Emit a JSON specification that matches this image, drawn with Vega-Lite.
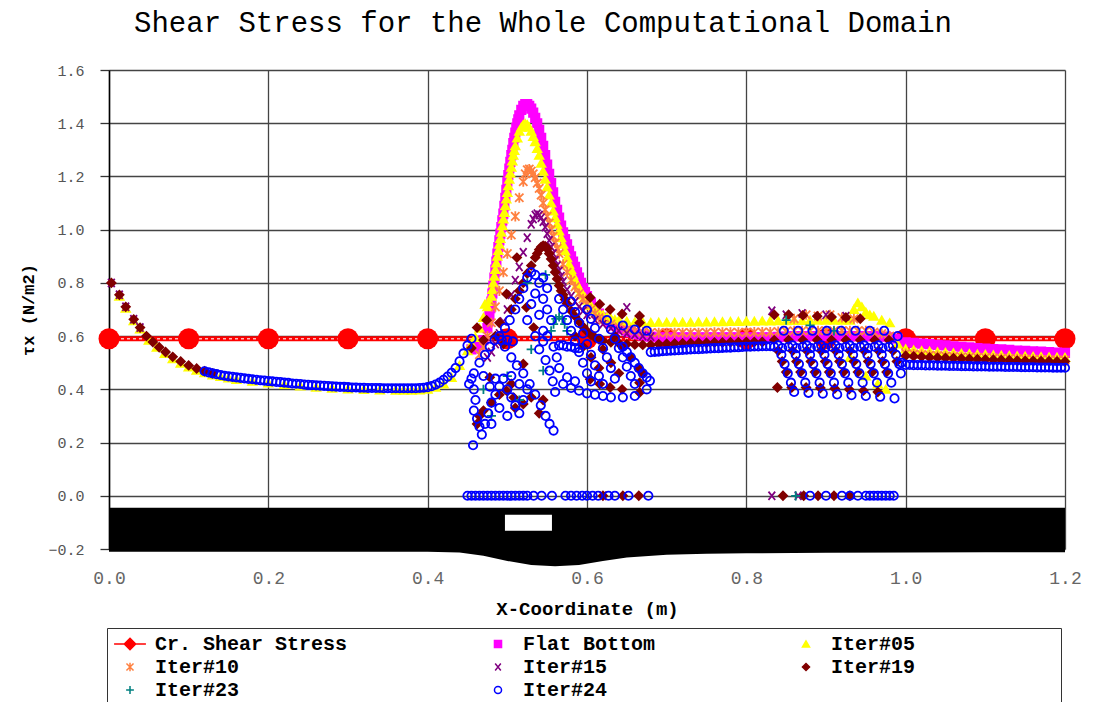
{
"$schema":"https://vega.github.io/schema/vega-lite/v6.json",
"width":956,"height":479,
"autosize":"none",
"padding":{"left":109,"top":70,"right":28,"bottom":153},
"config":{"view":{"stroke":null},"font":"Liberation Mono"},
"title":{"text":"Shear Stress for the Whole Computational Domain","font":"Liberation Mono","fontSize":29,"fontWeight":"normal","color":"#000","anchor":"middle","dx":-44,"offset":25},
"datasets":{
"bed":[{"x":0,"y":-0.21,"top":-0.045},{"x":0.4,"y":-0.21,"top":-0.045},{"x":0.44,"y":-0.213,"top":-0.045},{"x":0.47,"y":-0.225,"top":-0.045},{"x":0.5,"y":-0.245,"top":-0.045},{"x":0.53,"y":-0.26,"top":-0.045},{"x":0.56,"y":-0.265,"top":-0.045},{"x":0.59,"y":-0.26,"top":-0.045},{"x":0.62,"y":-0.245,"top":-0.045},{"x":0.65,"y":-0.232,"top":-0.045},{"x":0.7,"y":-0.222,"top":-0.045},{"x":0.75,"y":-0.218,"top":-0.045},{"x":0.8,"y":-0.216,"top":-0.045},{"x":0.9,"y":-0.214,"top":-0.045},{"x":1.0,"y":-0.213,"top":-0.045},{"x":1.1,"y":-0.212,"top":-0.045},{"x":1.2,"y":-0.212,"top":-0.045}],
"hole":[{"x":0.497,"x2":0.556,"y":-0.131,"y2":-0.071}],
"crit":[{"x":0,"y":0.59},{"x":0.1,"y":0.59},{"x":0.2,"y":0.59},{"x":0.3,"y":0.59},{"x":0.4,"y":0.59},{"x":0.5,"y":0.59},{"x":0.6,"y":0.59},{"x":0.7,"y":0.59},{"x":0.8,"y":0.59},{"x":0.9,"y":0.59},{"x":1.0,"y":0.59},{"x":1.1,"y":0.59},{"x":1.2,"y":0.59}],
"pts":[
{"s":"Flat Bottom","x":0.455,"y":0.55},{"s":"Flat Bottom","x":0.46,"y":0.555},{"s":"Flat Bottom","x":0.465,"y":0.565},{"s":"Flat Bottom","x":0.47,"y":0.585},{"s":"Flat Bottom","x":0.475,"y":0.63},{"s":"Flat Bottom","x":0.47625,"y":0.655},{"s":"Flat Bottom","x":0.4775,"y":0.68},{"s":"Flat Bottom","x":0.47875,"y":0.705},{"s":"Flat Bottom","x":0.48,"y":0.73},{"s":"Flat Bottom","x":0.48125,"y":0.76},{"s":"Flat Bottom","x":0.4825,"y":0.79},{"s":"Flat Bottom","x":0.48375,"y":0.82},{"s":"Flat Bottom","x":0.485,"y":0.85},{"s":"Flat Bottom","x":0.48625,"y":0.88},{"s":"Flat Bottom","x":0.4875,"y":0.91},{"s":"Flat Bottom","x":0.48875,"y":0.935},{"s":"Flat Bottom","x":0.49,"y":0.96},{"s":"Flat Bottom","x":0.49125,"y":0.985},{"s":"Flat Bottom","x":0.4925,"y":1.01},{"s":"Flat Bottom","x":0.49375,"y":1.035},{"s":"Flat Bottom","x":0.495,"y":1.06},{"s":"Flat Bottom","x":0.49625,"y":1.09},{"s":"Flat Bottom","x":0.4975,"y":1.12},{"s":"Flat Bottom","x":0.49875,"y":1.15},{"s":"Flat Bottom","x":0.5,"y":1.18},{"s":"Flat Bottom","x":0.50125,"y":1.205},{"s":"Flat Bottom","x":0.5025,"y":1.23},{"s":"Flat Bottom","x":0.50375,"y":1.255},{"s":"Flat Bottom","x":0.505,"y":1.28},{"s":"Flat Bottom","x":0.50625,"y":1.3},{"s":"Flat Bottom","x":0.5075,"y":1.325},{"s":"Flat Bottom","x":0.50875,"y":1.345},{"s":"Flat Bottom","x":0.51,"y":1.365},{"s":"Flat Bottom","x":0.51125,"y":1.383},{"s":"Flat Bottom","x":0.5125,"y":1.4},{"s":"Flat Bottom","x":0.51375,"y":1.415},{"s":"Flat Bottom","x":0.515,"y":1.43},{"s":"Flat Bottom","x":0.5175,"y":1.45},{"s":"Flat Bottom","x":0.52,"y":1.465},{"s":"Flat Bottom","x":0.5225,"y":1.472},{"s":"Flat Bottom","x":0.525,"y":1.472},{"s":"Flat Bottom","x":0.5275,"y":1.465},{"s":"Flat Bottom","x":0.53,"y":1.455},{"s":"Flat Bottom","x":0.5325,"y":1.44},{"s":"Flat Bottom","x":0.535,"y":1.42},{"s":"Flat Bottom","x":0.5375,"y":1.4},{"s":"Flat Bottom","x":0.54,"y":1.375},{"s":"Flat Bottom","x":0.5425,"y":1.345},{"s":"Flat Bottom","x":0.545,"y":1.315},{"s":"Flat Bottom","x":0.5475,"y":1.28},{"s":"Flat Bottom","x":0.55,"y":1.245},{"s":"Flat Bottom","x":0.5525,"y":1.21},{"s":"Flat Bottom","x":0.555,"y":1.175},{"s":"Flat Bottom","x":0.5575,"y":1.14},{"s":"Flat Bottom","x":0.56,"y":1.105},{"s":"Flat Bottom","x":0.5625,"y":1.075},{"s":"Flat Bottom","x":0.565,"y":1.045},{"s":"Flat Bottom","x":0.5675,"y":1.015},{"s":"Flat Bottom","x":0.57,"y":0.99},{"s":"Flat Bottom","x":0.5725,"y":0.965},{"s":"Flat Bottom","x":0.575,"y":0.945},{"s":"Flat Bottom","x":0.5775,"y":0.92},{"s":"Flat Bottom","x":0.58,"y":0.9},{"s":"Flat Bottom","x":0.5825,"y":0.88},{"s":"Flat Bottom","x":0.585,"y":0.86},{"s":"Flat Bottom","x":0.5875,"y":0.84},{"s":"Flat Bottom","x":0.59,"y":0.82},{"s":"Flat Bottom","x":0.5925,"y":0.8},{"s":"Flat Bottom","x":0.595,"y":0.78},{"s":"Flat Bottom","x":0.5975,"y":0.765},{"s":"Flat Bottom","x":0.6,"y":0.75},{"s":"Flat Bottom","x":0.605,"y":0.725},{"s":"Flat Bottom","x":0.61,"y":0.7},{"s":"Flat Bottom","x":0.615,"y":0.685},{"s":"Flat Bottom","x":0.62,"y":0.67},{"s":"Flat Bottom","x":0.625,"y":0.658},{"s":"Flat Bottom","x":0.63,"y":0.648},{"s":"Flat Bottom","x":0.635,"y":0.64},{"s":"Flat Bottom","x":0.64,"y":0.632},{"s":"Flat Bottom","x":0.645,"y":0.626},{"s":"Flat Bottom","x":0.65,"y":0.62},{"s":"Flat Bottom","x":0.655,"y":0.615},{"s":"Flat Bottom","x":0.66,"y":0.61},{"s":"Flat Bottom","x":0.665,"y":0.606},{"s":"Flat Bottom","x":0.67,"y":0.603},{"s":"Flat Bottom","x":0.675,"y":0.6},{"s":"Flat Bottom","x":0.68,"y":0.598},
{"s":"Flat Bottom","x":0.69,"y":0.595},{"s":"Flat Bottom","x":0.7,"y":0.595},{"s":"Flat Bottom","x":0.71,"y":0.595},{"s":"Flat Bottom","x":0.72,"y":0.595},{"s":"Flat Bottom","x":0.73,"y":0.595},{"s":"Flat Bottom","x":0.74,"y":0.595},{"s":"Flat Bottom","x":0.75,"y":0.595},{"s":"Flat Bottom","x":0.76,"y":0.595},{"s":"Flat Bottom","x":0.77,"y":0.595},{"s":"Flat Bottom","x":0.78,"y":0.595},{"s":"Flat Bottom","x":0.79,"y":0.595},{"s":"Flat Bottom","x":0.8,"y":0.595},{"s":"Flat Bottom","x":0.81,"y":0.595},{"s":"Flat Bottom","x":0.82,"y":0.595},{"s":"Flat Bottom","x":0.83,"y":0.595},{"s":"Flat Bottom","x":0.84,"y":0.597},{"s":"Flat Bottom","x":0.85,"y":0.598},{"s":"Flat Bottom","x":0.86,"y":0.6},{"s":"Flat Bottom","x":0.87,"y":0.6},{"s":"Flat Bottom","x":0.88,"y":0.6},{"s":"Flat Bottom","x":0.89,"y":0.6},{"s":"Flat Bottom","x":0.9,"y":0.6},{"s":"Flat Bottom","x":0.91,"y":0.6},{"s":"Flat Bottom","x":0.92,"y":0.6},{"s":"Flat Bottom","x":0.93,"y":0.6},{"s":"Flat Bottom","x":0.94,"y":0.6},{"s":"Flat Bottom","x":0.95,"y":0.6},{"s":"Flat Bottom","x":0.96,"y":0.6},{"s":"Flat Bottom","x":0.97,"y":0.598},{"s":"Flat Bottom","x":0.98,"y":0.595},{"s":"Flat Bottom","x":0.99,"y":0.59},
{"s":"Flat Bottom","x":1.0,"y":0.577},{"s":"Flat Bottom","x":1.01,"y":0.575},{"s":"Flat Bottom","x":1.02,"y":0.572},{"s":"Flat Bottom","x":1.03,"y":0.57},{"s":"Flat Bottom","x":1.04,"y":0.567},{"s":"Flat Bottom","x":1.05,"y":0.565},{"s":"Flat Bottom","x":1.06,"y":0.562},{"s":"Flat Bottom","x":1.07,"y":0.56},{"s":"Flat Bottom","x":1.08,"y":0.558},{"s":"Flat Bottom","x":1.09,"y":0.555},{"s":"Flat Bottom","x":1.1,"y":0.553},{"s":"Flat Bottom","x":1.11,"y":0.551},{"s":"Flat Bottom","x":1.12,"y":0.55},{"s":"Flat Bottom","x":1.13,"y":0.548},{"s":"Flat Bottom","x":1.14,"y":0.546},{"s":"Flat Bottom","x":1.15,"y":0.545},{"s":"Flat Bottom","x":1.16,"y":0.543},{"s":"Flat Bottom","x":1.17,"y":0.542},{"s":"Flat Bottom","x":1.18,"y":0.54},{"s":"Flat Bottom","x":1.19,"y":0.538},{"s":"Flat Bottom","x":1.2,"y":0.537},

{"s":"Iter#05","x":0.013,"y":0.75},{"s":"Iter#05","x":0.021,"y":0.705},{"s":"Iter#05","x":0.031,"y":0.658},{"s":"Iter#05","x":0.039,"y":0.627},{"s":"Iter#05","x":0.05,"y":0.585},{"s":"Iter#05","x":0.06,"y":0.558},{"s":"Iter#05","x":0.07,"y":0.535},{"s":"Iter#05","x":0.08,"y":0.515},{"s":"Iter#05","x":0.09,"y":0.498},{"s":"Iter#05","x":0.1,"y":0.484},{"s":"Iter#05","x":0.11,"y":0.472},{"s":"Iter#05","x":0.12,"y":0.462},{"s":"Iter#05","x":0.13,"y":0.454},{"s":"Iter#05","x":0.14,"y":0.448},{"s":"Iter#05","x":0.15,"y":0.443},{"s":"Iter#05","x":0.16,"y":0.437},{"s":"Iter#05","x":0.18,"y":0.43},{"s":"Iter#05","x":0.2,"y":0.424},{"s":"Iter#05","x":0.22,"y":0.418},{"s":"Iter#05","x":0.24,"y":0.413},{"s":"Iter#05","x":0.26,"y":0.408},{"s":"Iter#05","x":0.28,"y":0.404},{"s":"Iter#05","x":0.3,"y":0.401},{"s":"Iter#05","x":0.32,"y":0.399},{"s":"Iter#05","x":0.34,"y":0.398},{"s":"Iter#05","x":0.36,"y":0.397},{"s":"Iter#05","x":0.37,"y":0.397},{"s":"Iter#05","x":0.38,"y":0.397},{"s":"Iter#05","x":0.39,"y":0.398},{"s":"Iter#05","x":0.4,"y":0.4},{"s":"Iter#05","x":0.41,"y":0.408},{"s":"Iter#05","x":0.42,"y":0.42},{"s":"Iter#05","x":0.43,"y":0.445},{"s":"Iter#05","x":0.44,"y":0.49},
{"s":"Iter#05","x":0.45,"y":0.545},{"s":"Iter#05","x":0.455,"y":0.57},{"s":"Iter#05","x":0.46,"y":0.595},{"s":"Iter#05","x":0.465,"y":0.63},{"s":"Iter#05","x":0.47,"y":0.67},{"s":"Iter#05","x":0.472,"y":0.72},{"s":"Iter#05","x":0.475,"y":0.71},{"s":"Iter#05","x":0.4775,"y":0.73},{"s":"Iter#05","x":0.48,"y":0.75},{"s":"Iter#05","x":0.48125,"y":0.775},{"s":"Iter#05","x":0.4825,"y":0.8},{"s":"Iter#05","x":0.48375,"y":0.825},{"s":"Iter#05","x":0.485,"y":0.85},{"s":"Iter#05","x":0.48625,"y":0.875},{"s":"Iter#05","x":0.4875,"y":0.9},{"s":"Iter#05","x":0.48875,"y":0.922},{"s":"Iter#05","x":0.49,"y":0.945},{"s":"Iter#05","x":0.49125,"y":0.967},{"s":"Iter#05","x":0.4925,"y":0.99},{"s":"Iter#05","x":0.49375,"y":1.015},{"s":"Iter#05","x":0.495,"y":1.04},{"s":"Iter#05","x":0.49625,"y":1.065},{"s":"Iter#05","x":0.4975,"y":1.09},{"s":"Iter#05","x":0.49875,"y":1.115},{"s":"Iter#05","x":0.5,"y":1.14},{"s":"Iter#05","x":0.50125,"y":1.165},{"s":"Iter#05","x":0.5025,"y":1.19},{"s":"Iter#05","x":0.50375,"y":1.212},{"s":"Iter#05","x":0.505,"y":1.235},{"s":"Iter#05","x":0.50625,"y":1.258},{"s":"Iter#05","x":0.5075,"y":1.28},{"s":"Iter#05","x":0.50875,"y":1.298},{"s":"Iter#05","x":0.51,"y":1.315},{"s":"Iter#05","x":0.5125,"y":1.345},{"s":"Iter#05","x":0.515,"y":1.37},{"s":"Iter#05","x":0.5175,"y":1.385},{"s":"Iter#05","x":0.52,"y":1.395},{"s":"Iter#05","x":0.5225,"y":1.398},{"s":"Iter#05","x":0.525,"y":1.395},{"s":"Iter#05","x":0.5275,"y":1.385},{"s":"Iter#05","x":0.53,"y":1.37},{"s":"Iter#05","x":0.5325,"y":1.35},{"s":"Iter#05","x":0.535,"y":1.33},{"s":"Iter#05","x":0.5375,"y":1.305},{"s":"Iter#05","x":0.54,"y":1.28},{"s":"Iter#05","x":0.5425,"y":1.25},{"s":"Iter#05","x":0.545,"y":1.22},{"s":"Iter#05","x":0.5475,"y":1.19},{"s":"Iter#05","x":0.55,"y":1.16},{"s":"Iter#05","x":0.5525,"y":1.13},{"s":"Iter#05","x":0.555,"y":1.1},{"s":"Iter#05","x":0.5575,"y":1.07},{"s":"Iter#05","x":0.56,"y":1.045},{"s":"Iter#05","x":0.5625,"y":1.02},{"s":"Iter#05","x":0.565,"y":0.995},{"s":"Iter#05","x":0.5675,"y":0.97},{"s":"Iter#05","x":0.57,"y":0.945},{"s":"Iter#05","x":0.5725,"y":0.92},{"s":"Iter#05","x":0.575,"y":0.895},{"s":"Iter#05","x":0.5775,"y":0.87},{"s":"Iter#05","x":0.58,"y":0.85},{"s":"Iter#05","x":0.5825,"y":0.83},{"s":"Iter#05","x":0.585,"y":0.81},{"s":"Iter#05","x":0.5875,"y":0.795},{"s":"Iter#05","x":0.59,"y":0.78},{"s":"Iter#05","x":0.5925,"y":0.767},{"s":"Iter#05","x":0.595,"y":0.755},{"s":"Iter#05","x":0.5975,"y":0.745},{"s":"Iter#05","x":0.6,"y":0.735},{"s":"Iter#05","x":0.605,"y":0.715},{"s":"Iter#05","x":0.61,"y":0.7},{"s":"Iter#05","x":0.615,"y":0.69},{"s":"Iter#05","x":0.62,"y":0.68},{"s":"Iter#05","x":0.625,"y":0.672},{"s":"Iter#05","x":0.63,"y":0.666},{"s":"Iter#05","x":0.635,"y":0.662},{"s":"Iter#05","x":0.64,"y":0.66},{"s":"Iter#05","x":0.65,"y":0.656},{"s":"Iter#05","x":0.66,"y":0.653},{"s":"Iter#05","x":0.67,"y":0.652},{"s":"Iter#05","x":0.68,"y":0.651},
{"s":"Iter#05","x":0.69,"y":0.652},{"s":"Iter#05","x":0.7,"y":0.652},{"s":"Iter#05","x":0.71,"y":0.652},{"s":"Iter#05","x":0.72,"y":0.652},{"s":"Iter#05","x":0.73,"y":0.652},{"s":"Iter#05","x":0.74,"y":0.653},{"s":"Iter#05","x":0.75,"y":0.653},{"s":"Iter#05","x":0.76,"y":0.654},{"s":"Iter#05","x":0.77,"y":0.654},{"s":"Iter#05","x":0.78,"y":0.655},{"s":"Iter#05","x":0.79,"y":0.655},{"s":"Iter#05","x":0.8,"y":0.656},{"s":"Iter#05","x":0.81,"y":0.656},{"s":"Iter#05","x":0.82,"y":0.657},{"s":"Iter#05","x":0.83,"y":0.657},{"s":"Iter#05","x":0.84,"y":0.658},{"s":"Iter#05","x":0.85,"y":0.658},{"s":"Iter#05","x":0.86,"y":0.659},{"s":"Iter#05","x":0.87,"y":0.659},{"s":"Iter#05","x":0.88,"y":0.66},{"s":"Iter#05","x":0.89,"y":0.66},{"s":"Iter#05","x":0.9,"y":0.66},{"s":"Iter#05","x":0.91,"y":0.66},{"s":"Iter#05","x":0.92,"y":0.66},{"s":"Iter#05","x":0.93,"y":0.66},{"s":"Iter#05","x":0.935,"y":0.7},{"s":"Iter#05","x":0.94,"y":0.725},{"s":"Iter#05","x":0.945,"y":0.71},{"s":"Iter#05","x":0.95,"y":0.69},{"s":"Iter#05","x":0.955,"y":0.68},{"s":"Iter#05","x":0.96,"y":0.675},{"s":"Iter#05","x":0.97,"y":0.66},{"s":"Iter#05","x":0.98,"y":0.65},{"s":"Iter#05","x":0.93,"y":0.52},{"s":"Iter#05","x":0.95,"y":0.45},{"s":"Iter#05","x":0.965,"y":0.42},{"s":"Iter#05","x":0.975,"y":0.4},
{"s":"Iter#05","x":0.99,"y":0.57},{"s":"Iter#05","x":1.0,"y":0.552},{"s":"Iter#05","x":1.01,"y":0.548},{"s":"Iter#05","x":1.02,"y":0.545},{"s":"Iter#05","x":1.03,"y":0.543},{"s":"Iter#05","x":1.04,"y":0.541},{"s":"Iter#05","x":1.05,"y":0.539},{"s":"Iter#05","x":1.06,"y":0.537},{"s":"Iter#05","x":1.07,"y":0.535},{"s":"Iter#05","x":1.08,"y":0.534},{"s":"Iter#05","x":1.09,"y":0.532},{"s":"Iter#05","x":1.1,"y":0.531},{"s":"Iter#05","x":1.11,"y":0.529},{"s":"Iter#05","x":1.12,"y":0.528},{"s":"Iter#05","x":1.13,"y":0.527},{"s":"Iter#05","x":1.14,"y":0.526},{"s":"Iter#05","x":1.15,"y":0.525},{"s":"Iter#05","x":1.16,"y":0.524},{"s":"Iter#05","x":1.17,"y":0.523},{"s":"Iter#05","x":1.18,"y":0.522},{"s":"Iter#05","x":1.19,"y":0.521},{"s":"Iter#05","x":1.2,"y":0.52},

{"s":"Iter#10","x":0.465,"y":0.53},{"s":"Iter#10","x":0.47,"y":0.56},{"s":"Iter#10","x":0.475,"y":0.6},{"s":"Iter#10","x":0.48,"y":0.65},{"s":"Iter#10","x":0.485,"y":0.71},{"s":"Iter#10","x":0.49,"y":0.77},{"s":"Iter#10","x":0.495,"y":0.84},{"s":"Iter#10","x":0.5,"y":0.91},{"s":"Iter#10","x":0.505,"y":0.98},{"s":"Iter#10","x":0.51,"y":1.05},{"s":"Iter#10","x":0.515,"y":1.12},{"s":"Iter#10","x":0.52,"y":1.18},{"s":"Iter#10","x":0.5225,"y":1.21},{"s":"Iter#10","x":0.525,"y":1.225},{"s":"Iter#10","x":0.5275,"y":1.228},{"s":"Iter#10","x":0.53,"y":1.22},{"s":"Iter#10","x":0.5325,"y":1.21},{"s":"Iter#10","x":0.535,"y":1.195},{"s":"Iter#10","x":0.5375,"y":1.175},{"s":"Iter#10","x":0.54,"y":1.155},{"s":"Iter#10","x":0.5425,"y":1.13},{"s":"Iter#10","x":0.545,"y":1.1},{"s":"Iter#10","x":0.5475,"y":1.075},{"s":"Iter#10","x":0.55,"y":1.05},{"s":"Iter#10","x":0.5525,"y":1.025},{"s":"Iter#10","x":0.555,"y":1.0},{"s":"Iter#10","x":0.5575,"y":0.975},{"s":"Iter#10","x":0.56,"y":0.95},{"s":"Iter#10","x":0.5625,"y":0.93},{"s":"Iter#10","x":0.565,"y":0.91},{"s":"Iter#10","x":0.57,"y":0.87},{"s":"Iter#10","x":0.575,"y":0.84},{"s":"Iter#10","x":0.58,"y":0.81},{"s":"Iter#10","x":0.585,"y":0.785},{"s":"Iter#10","x":0.59,"y":0.76},{"s":"Iter#10","x":0.595,"y":0.74},{"s":"Iter#10","x":0.6,"y":0.72},{"s":"Iter#10","x":0.605,"y":0.7},{"s":"Iter#10","x":0.61,"y":0.685},{"s":"Iter#10","x":0.615,"y":0.67},{"s":"Iter#10","x":0.62,"y":0.66},{"s":"Iter#10","x":0.63,"y":0.645},{"s":"Iter#10","x":0.64,"y":0.635},{"s":"Iter#10","x":0.65,"y":0.625},{"s":"Iter#10","x":0.66,"y":0.62},{"s":"Iter#10","x":0.67,"y":0.615},{"s":"Iter#10","x":0.68,"y":0.613},
{"s":"Iter#10","x":0.69,"y":0.613},{"s":"Iter#10","x":0.7,"y":0.613},{"s":"Iter#10","x":0.71,"y":0.613},{"s":"Iter#10","x":0.72,"y":0.613},{"s":"Iter#10","x":0.73,"y":0.613},{"s":"Iter#10","x":0.74,"y":0.613},{"s":"Iter#10","x":0.75,"y":0.613},{"s":"Iter#10","x":0.76,"y":0.614},{"s":"Iter#10","x":0.77,"y":0.614},{"s":"Iter#10","x":0.78,"y":0.614},{"s":"Iter#10","x":0.79,"y":0.614},{"s":"Iter#10","x":0.8,"y":0.614},{"s":"Iter#10","x":0.81,"y":0.615},{"s":"Iter#10","x":0.82,"y":0.615},{"s":"Iter#10","x":0.83,"y":0.615},{"s":"Iter#10","x":0.84,"y":0.617},{"s":"Iter#10","x":0.85,"y":0.618},{"s":"Iter#10","x":0.86,"y":0.62},{"s":"Iter#10","x":0.87,"y":0.62},{"s":"Iter#10","x":0.88,"y":0.62},{"s":"Iter#10","x":0.89,"y":0.62},{"s":"Iter#10","x":0.9,"y":0.62},{"s":"Iter#10","x":0.91,"y":0.62},{"s":"Iter#10","x":0.92,"y":0.62},{"s":"Iter#10","x":0.93,"y":0.62},{"s":"Iter#10","x":0.94,"y":0.62},{"s":"Iter#10","x":0.95,"y":0.62},{"s":"Iter#10","x":0.96,"y":0.615},{"s":"Iter#10","x":0.97,"y":0.61},{"s":"Iter#10","x":0.98,"y":0.6},{"s":"Iter#10","x":0.86,"y":0.665},{"s":"Iter#10","x":0.875,"y":0.68},{"s":"Iter#10","x":0.89,"y":0.675},{"s":"Iter#10","x":0.905,"y":0.68},{"s":"Iter#10","x":0.92,"y":0.67},{"s":"Iter#10","x":0.935,"y":0.665},
{"s":"Iter#10","x":1.0,"y":0.535},{"s":"Iter#10","x":1.01,"y":0.533},{"s":"Iter#10","x":1.02,"y":0.531},{"s":"Iter#10","x":1.03,"y":0.529},{"s":"Iter#10","x":1.04,"y":0.527},{"s":"Iter#10","x":1.05,"y":0.525},{"s":"Iter#10","x":1.06,"y":0.524},{"s":"Iter#10","x":1.07,"y":0.522},{"s":"Iter#10","x":1.08,"y":0.521},{"s":"Iter#10","x":1.09,"y":0.52},{"s":"Iter#10","x":1.1,"y":0.519},{"s":"Iter#10","x":1.11,"y":0.518},{"s":"Iter#10","x":1.12,"y":0.517},{"s":"Iter#10","x":1.13,"y":0.516},{"s":"Iter#10","x":1.14,"y":0.515},{"s":"Iter#10","x":1.15,"y":0.514},{"s":"Iter#10","x":1.16,"y":0.513},{"s":"Iter#10","x":1.17,"y":0.512},{"s":"Iter#10","x":1.18,"y":0.511},{"s":"Iter#10","x":1.19,"y":0.51},{"s":"Iter#10","x":1.2,"y":0.51},

{"s":"Iter#15","x":0.003,"y":0.8},{"s":"Iter#15","x":0.013,"y":0.755},{"s":"Iter#15","x":0.021,"y":0.71},{"s":"Iter#15","x":0.031,"y":0.663},{"s":"Iter#15","x":0.039,"y":0.632},
{"s":"Iter#15","x":0.475,"y":0.52},{"s":"Iter#15","x":0.48,"y":0.54},{"s":"Iter#15","x":0.485,"y":0.57},{"s":"Iter#15","x":0.49,"y":0.61},{"s":"Iter#15","x":0.495,"y":0.655},{"s":"Iter#15","x":0.5,"y":0.7},{"s":"Iter#15","x":0.505,"y":0.755},{"s":"Iter#15","x":0.51,"y":0.81},{"s":"Iter#15","x":0.515,"y":0.86},{"s":"Iter#15","x":0.52,"y":0.915},{"s":"Iter#15","x":0.525,"y":0.97},{"s":"Iter#15","x":0.53,"y":1.02},{"s":"Iter#15","x":0.5325,"y":1.04},{"s":"Iter#15","x":0.535,"y":1.055},{"s":"Iter#15","x":0.5375,"y":1.06},{"s":"Iter#15","x":0.54,"y":1.055},{"s":"Iter#15","x":0.5425,"y":1.045},{"s":"Iter#15","x":0.545,"y":1.03},{"s":"Iter#15","x":0.5475,"y":1.01},{"s":"Iter#15","x":0.55,"y":0.985},{"s":"Iter#15","x":0.5525,"y":0.96},{"s":"Iter#15","x":0.555,"y":0.935},{"s":"Iter#15","x":0.5575,"y":0.91},{"s":"Iter#15","x":0.56,"y":0.885},{"s":"Iter#15","x":0.5625,"y":0.865},{"s":"Iter#15","x":0.565,"y":0.845},{"s":"Iter#15","x":0.5675,"y":0.825},{"s":"Iter#15","x":0.57,"y":0.805},{"s":"Iter#15","x":0.575,"y":0.775},{"s":"Iter#15","x":0.58,"y":0.75},{"s":"Iter#15","x":0.585,"y":0.73},{"s":"Iter#15","x":0.59,"y":0.71},{"s":"Iter#15","x":0.595,"y":0.695},{"s":"Iter#15","x":0.6,"y":0.68},{"s":"Iter#15","x":0.61,"y":0.66},{"s":"Iter#15","x":0.62,"y":0.645},{"s":"Iter#15","x":0.63,"y":0.63},{"s":"Iter#15","x":0.64,"y":0.62},{"s":"Iter#15","x":0.65,"y":0.61},{"s":"Iter#15","x":0.66,"y":0.605},{"s":"Iter#15","x":0.67,"y":0.6},{"s":"Iter#15","x":0.68,"y":0.598},
{"s":"Iter#15","x":0.65,"y":0.708},{"s":"Iter#15","x":0.832,"y":0.695},{"s":"Iter#15","x":0.85,"y":0.68},{"s":"Iter#15","x":0.87,"y":0.685},{"s":"Iter#15","x":0.9,"y":0.68},{"s":"Iter#15","x":0.925,"y":0.675},{"s":"Iter#15","x":0.832,"y":0.0},{"s":"Iter#15","x":0.865,"y":0.0},{"s":"Iter#15","x":0.62,"y":0.0},

{"s":"Iter#19","x":0.003,"y":0.8},{"s":"Iter#19","x":0.013,"y":0.755},{"s":"Iter#19","x":0.021,"y":0.71},{"s":"Iter#19","x":0.031,"y":0.663},{"s":"Iter#19","x":0.039,"y":0.632},{"s":"Iter#19","x":0.047,"y":0.6},{"s":"Iter#19","x":0.055,"y":0.578},{"s":"Iter#19","x":0.063,"y":0.558},{"s":"Iter#19","x":0.071,"y":0.54},{"s":"Iter#19","x":0.08,"y":0.522},{"s":"Iter#19","x":0.09,"y":0.505},{"s":"Iter#19","x":0.1,"y":0.49},{"s":"Iter#19","x":0.11,"y":0.478},{"s":"Iter#19","x":0.12,"y":0.468},{"s":"Iter#19","x":0.13,"y":0.46},
{"s":"Iter#19","x":0.515,"y":0.77},{"s":"Iter#19","x":0.52,"y":0.8},{"s":"Iter#19","x":0.525,"y":0.835},{"s":"Iter#19","x":0.53,"y":0.865},{"s":"Iter#19","x":0.535,"y":0.895},{"s":"Iter#19","x":0.5375,"y":0.91},{"s":"Iter#19","x":0.54,"y":0.925},{"s":"Iter#19","x":0.5425,"y":0.935},{"s":"Iter#19","x":0.545,"y":0.94},{"s":"Iter#19","x":0.5475,"y":0.938},{"s":"Iter#19","x":0.55,"y":0.928},{"s":"Iter#19","x":0.5525,"y":0.91},{"s":"Iter#19","x":0.555,"y":0.89},{"s":"Iter#19","x":0.5575,"y":0.865},{"s":"Iter#19","x":0.56,"y":0.84},{"s":"Iter#19","x":0.5625,"y":0.815},{"s":"Iter#19","x":0.565,"y":0.79},{"s":"Iter#19","x":0.5675,"y":0.77},{"s":"Iter#19","x":0.57,"y":0.755},{"s":"Iter#19","x":0.5725,"y":0.738},{"s":"Iter#19","x":0.575,"y":0.722},{"s":"Iter#19","x":0.58,"y":0.695},{"s":"Iter#19","x":0.585,"y":0.675},{"s":"Iter#19","x":0.59,"y":0.655},{"s":"Iter#19","x":0.595,"y":0.635},{"s":"Iter#19","x":0.6,"y":0.618},{"s":"Iter#19","x":0.605,"y":0.605},{"s":"Iter#19","x":0.61,"y":0.595},{"s":"Iter#19","x":0.615,"y":0.588},{"s":"Iter#19","x":0.62,"y":0.582},{"s":"Iter#19","x":0.63,"y":0.577},{"s":"Iter#19","x":0.64,"y":0.573},{"s":"Iter#19","x":0.65,"y":0.57},{"s":"Iter#19","x":0.66,"y":0.568},{"s":"Iter#19","x":0.67,"y":0.567},{"s":"Iter#19","x":0.68,"y":0.567},
{"s":"Iter#19","x":0.69,"y":0.57},{"s":"Iter#19","x":0.7,"y":0.571},{"s":"Iter#19","x":0.71,"y":0.572},{"s":"Iter#19","x":0.72,"y":0.573},{"s":"Iter#19","x":0.73,"y":0.574},{"s":"Iter#19","x":0.74,"y":0.575},{"s":"Iter#19","x":0.75,"y":0.575},{"s":"Iter#19","x":0.76,"y":0.576},{"s":"Iter#19","x":0.77,"y":0.576},{"s":"Iter#19","x":0.78,"y":0.577},{"s":"Iter#19","x":0.79,"y":0.577},{"s":"Iter#19","x":0.8,"y":0.578},{"s":"Iter#19","x":0.81,"y":0.578},{"s":"Iter#19","x":0.82,"y":0.578},
{"s":"Iter#19","x":0.462,"y":0.632},{"s":"Iter#19","x":0.474,"y":0.66},{"s":"Iter#19","x":0.499,"y":0.758},{"s":"Iter#19","x":0.495,"y":0.57},{"s":"Iter#19","x":0.499,"y":0.395},{"s":"Iter#19","x":0.47,"y":0.32},{"s":"Iter#19","x":0.462,"y":0.27},{"s":"Iter#19","x":0.52,"y":0.495},{"s":"Iter#19","x":0.524,"y":0.708},{"s":"Iter#19","x":0.533,"y":0.632},{"s":"Iter#19","x":0.508,"y":0.369},{"s":"Iter#19","x":0.52,"y":0.345},{"s":"Iter#19","x":0.478,"y":0.445},{"s":"Iter#19","x":0.465,"y":0.3},{"s":"Iter#19","x":0.48,"y":0.35},{"s":"Iter#19","x":0.49,"y":0.38},{"s":"Iter#19","x":0.505,"y":0.42},{"s":"Iter#19","x":0.51,"y":0.33},{"s":"Iter#19","x":0.53,"y":0.37},{"s":"Iter#19","x":0.54,"y":0.31},{"s":"Iter#19","x":0.545,"y":0.36},{"s":"Iter#19","x":0.485,"y":0.6},{"s":"Iter#19","x":0.49,"y":0.65},{"s":"Iter#19","x":0.505,"y":0.7},{"s":"Iter#19","x":0.51,"y":0.74},{"s":"Iter#19","x":0.47,"y":0.585},{"s":"Iter#19","x":0.455,"y":0.555},{"s":"Iter#19","x":0.512,"y":0.895},
{"s":"Iter#19","x":0.604,"y":0.745},{"s":"Iter#19","x":0.616,"y":0.72},{"s":"Iter#19","x":0.629,"y":0.7},{"s":"Iter#19","x":0.644,"y":0.683},{"s":"Iter#19","x":0.666,"y":0.676},{"s":"Iter#19","x":0.666,"y":0.65},{"s":"Iter#19","x":0.604,"y":0.438},{"s":"Iter#19","x":0.616,"y":0.42},{"s":"Iter#19","x":0.629,"y":0.407},{"s":"Iter#19","x":0.644,"y":0.4},{"s":"Iter#19","x":0.666,"y":0.388},{"s":"Iter#19","x":0.666,"y":0.425},{"s":"Iter#19","x":0.635,"y":0.6},{"s":"Iter#19","x":0.645,"y":0.56},{"s":"Iter#19","x":0.655,"y":0.52},{"s":"Iter#19","x":0.665,"y":0.48},{"s":"Iter#19","x":0.67,"y":0.46},{"s":"Iter#19","x":0.62,"y":0.55},{"s":"Iter#19","x":0.63,"y":0.5},{"s":"Iter#19","x":0.64,"y":0.46},{"s":"Iter#19","x":0.585,"y":0.6},{"s":"Iter#19","x":0.595,"y":0.56},{"s":"Iter#19","x":0.605,"y":0.52},{"s":"Iter#19","x":0.615,"y":0.48},
{"s":"Iter#19","x":0.62,"y":0.0},{"s":"Iter#19","x":0.645,"y":0.0},{"s":"Iter#19","x":0.665,"y":0.0},{"s":"Iter#19","x":0.846,"y":0.0},{"s":"Iter#19","x":0.872,"y":0.0},{"s":"Iter#19","x":0.89,"y":0.0},{"s":"Iter#19","x":0.91,"y":0.0},{"s":"Iter#19","x":0.93,"y":0.0},
{"s":"Iter#19","x":0.835,"y":0.68},{"s":"Iter#19","x":0.853,"y":0.68},{"s":"Iter#19","x":0.871,"y":0.678},{"s":"Iter#19","x":0.889,"y":0.675},{"s":"Iter#19","x":0.907,"y":0.672},{"s":"Iter#19","x":0.925,"y":0.67},{"s":"Iter#19","x":0.943,"y":0.665},
{"s":"Iter#19","x":0.835,"y":0.585},{"s":"Iter#19","x":0.84,"y":0.545},{"s":"Iter#19","x":0.845,"y":0.505},{"s":"Iter#19","x":0.85,"y":0.465},
{"s":"Iter#19","x":0.853,"y":0.585},{"s":"Iter#19","x":0.858,"y":0.545},{"s":"Iter#19","x":0.863,"y":0.505},{"s":"Iter#19","x":0.868,"y":0.465},
{"s":"Iter#19","x":0.871,"y":0.585},{"s":"Iter#19","x":0.876,"y":0.545},{"s":"Iter#19","x":0.881,"y":0.505},{"s":"Iter#19","x":0.886,"y":0.465},
{"s":"Iter#19","x":0.889,"y":0.585},{"s":"Iter#19","x":0.894,"y":0.545},{"s":"Iter#19","x":0.899,"y":0.505},{"s":"Iter#19","x":0.904,"y":0.465},
{"s":"Iter#19","x":0.907,"y":0.585},{"s":"Iter#19","x":0.912,"y":0.545},{"s":"Iter#19","x":0.917,"y":0.505},{"s":"Iter#19","x":0.922,"y":0.465},
{"s":"Iter#19","x":0.925,"y":0.585},{"s":"Iter#19","x":0.93,"y":0.545},{"s":"Iter#19","x":0.935,"y":0.505},{"s":"Iter#19","x":0.94,"y":0.465},
{"s":"Iter#19","x":0.943,"y":0.585},{"s":"Iter#19","x":0.948,"y":0.545},{"s":"Iter#19","x":0.953,"y":0.505},{"s":"Iter#19","x":0.958,"y":0.465},
{"s":"Iter#19","x":0.961,"y":0.585},{"s":"Iter#19","x":0.966,"y":0.545},{"s":"Iter#19","x":0.971,"y":0.505},{"s":"Iter#19","x":0.976,"y":0.465},
{"s":"Iter#19","x":0.979,"y":0.585},{"s":"Iter#19","x":0.984,"y":0.545},{"s":"Iter#19","x":0.989,"y":0.505},
{"s":"Iter#19","x":0.839,"y":0.407},{"s":"Iter#19","x":0.857,"y":0.407},{"s":"Iter#19","x":0.875,"y":0.407},{"s":"Iter#19","x":0.893,"y":0.405},{"s":"Iter#19","x":0.911,"y":0.403},{"s":"Iter#19","x":0.929,"y":0.4},{"s":"Iter#19","x":0.947,"y":0.395},{"s":"Iter#19","x":0.965,"y":0.39},
{"s":"Iter#19","x":1.0,"y":0.526},{"s":"Iter#19","x":1.01,"y":0.524},{"s":"Iter#19","x":1.02,"y":0.522},{"s":"Iter#19","x":1.03,"y":0.52},{"s":"Iter#19","x":1.04,"y":0.519},{"s":"Iter#19","x":1.05,"y":0.518},{"s":"Iter#19","x":1.06,"y":0.517},{"s":"Iter#19","x":1.07,"y":0.515},{"s":"Iter#19","x":1.08,"y":0.514},{"s":"Iter#19","x":1.09,"y":0.513},{"s":"Iter#19","x":1.1,"y":0.512},{"s":"Iter#19","x":1.11,"y":0.511},{"s":"Iter#19","x":1.12,"y":0.51},{"s":"Iter#19","x":1.13,"y":0.509},{"s":"Iter#19","x":1.14,"y":0.508},{"s":"Iter#19","x":1.15,"y":0.507},{"s":"Iter#19","x":1.16,"y":0.507},{"s":"Iter#19","x":1.17,"y":0.506},{"s":"Iter#19","x":1.18,"y":0.506},{"s":"Iter#19","x":1.19,"y":0.505},{"s":"Iter#19","x":1.2,"y":0.505},

{"s":"Iter#23","x":0.555,"y":0.62},{"s":"Iter#23","x":0.558,"y":0.645},{"s":"Iter#23","x":0.561,"y":0.665},{"s":"Iter#23","x":0.565,"y":0.672},{"s":"Iter#23","x":0.569,"y":0.665},{"s":"Iter#23","x":0.572,"y":0.645},{"s":"Iter#23","x":0.575,"y":0.62},{"s":"Iter#23","x":0.47,"y":0.4},{"s":"Iter#23","x":0.48,"y":0.3},{"s":"Iter#23","x":0.5,"y":0.45},{"s":"Iter#23","x":0.515,"y":0.36},{"s":"Iter#23","x":0.53,"y":0.55},{"s":"Iter#23","x":0.545,"y":0.47},{"s":"Iter#23","x":0.525,"y":0.8},{"s":"Iter#23","x":0.548,"y":0.83},{"s":"Iter#23","x":0.85,"y":0.66},{"s":"Iter#23","x":0.88,"y":0.64},{"s":"Iter#23","x":0.91,"y":0.62},{"s":"Iter#23","x":0.862,"y":0.0},

{"s":"Iter#24","x":0.12,"y":0.468},{"s":"Iter#24","x":0.125,"y":0.464},{"s":"Iter#24","x":0.13,"y":0.46},{"s":"Iter#24","x":0.135,"y":0.457},{"s":"Iter#24","x":0.14,"y":0.454},{"s":"Iter#24","x":0.145,"y":0.451},{"s":"Iter#24","x":0.15,"y":0.449},{"s":"Iter#24","x":0.155,"y":0.447},{"s":"Iter#24","x":0.16,"y":0.445},{"s":"Iter#24","x":0.165,"y":0.443},{"s":"Iter#24","x":0.17,"y":0.441},{"s":"Iter#24","x":0.175,"y":0.439},{"s":"Iter#24","x":0.18,"y":0.438},{"s":"Iter#24","x":0.185,"y":0.436},{"s":"Iter#24","x":0.19,"y":0.434},{"s":"Iter#24","x":0.195,"y":0.433},{"s":"Iter#24","x":0.2,"y":0.431},{"s":"Iter#24","x":0.205,"y":0.43},{"s":"Iter#24","x":0.21,"y":0.428},{"s":"Iter#24","x":0.215,"y":0.427},{"s":"Iter#24","x":0.22,"y":0.425},{"s":"Iter#24","x":0.225,"y":0.424},{"s":"Iter#24","x":0.23,"y":0.422},{"s":"Iter#24","x":0.235,"y":0.421},{"s":"Iter#24","x":0.24,"y":0.42},{"s":"Iter#24","x":0.245,"y":0.418},{"s":"Iter#24","x":0.25,"y":0.417},{"s":"Iter#24","x":0.255,"y":0.416},{"s":"Iter#24","x":0.26,"y":0.415},{"s":"Iter#24","x":0.265,"y":0.414},{"s":"Iter#24","x":0.27,"y":0.413},{"s":"Iter#24","x":0.275,"y":0.412},{"s":"Iter#24","x":0.28,"y":0.411},{"s":"Iter#24","x":0.285,"y":0.41},{"s":"Iter#24","x":0.29,"y":0.409},{"s":"Iter#24","x":0.295,"y":0.409},{"s":"Iter#24","x":0.3,"y":0.408},{"s":"Iter#24","x":0.305,"y":0.407},{"s":"Iter#24","x":0.31,"y":0.407},{"s":"Iter#24","x":0.315,"y":0.406},{"s":"Iter#24","x":0.32,"y":0.406},{"s":"Iter#24","x":0.325,"y":0.405},{"s":"Iter#24","x":0.33,"y":0.405},{"s":"Iter#24","x":0.335,"y":0.405},{"s":"Iter#24","x":0.34,"y":0.405},{"s":"Iter#24","x":0.345,"y":0.404},{"s":"Iter#24","x":0.35,"y":0.404},{"s":"Iter#24","x":0.355,"y":0.404},{"s":"Iter#24","x":0.36,"y":0.404},{"s":"Iter#24","x":0.365,"y":0.404},{"s":"Iter#24","x":0.37,"y":0.404},{"s":"Iter#24","x":0.375,"y":0.404},{"s":"Iter#24","x":0.38,"y":0.404},{"s":"Iter#24","x":0.385,"y":0.404},{"s":"Iter#24","x":0.39,"y":0.405},{"s":"Iter#24","x":0.395,"y":0.406},{"s":"Iter#24","x":0.4,"y":0.408},{"s":"Iter#24","x":0.405,"y":0.412},{"s":"Iter#24","x":0.41,"y":0.418},{"s":"Iter#24","x":0.415,"y":0.425},{"s":"Iter#24","x":0.42,"y":0.436},{"s":"Iter#24","x":0.425,"y":0.448},{"s":"Iter#24","x":0.43,"y":0.462},{"s":"Iter#24","x":0.435,"y":0.48},{"s":"Iter#24","x":0.44,"y":0.505},{"s":"Iter#24","x":0.445,"y":0.535},{"s":"Iter#24","x":0.45,"y":0.565},{"s":"Iter#24","x":0.455,"y":0.59},
{"s":"Iter#24","x":0.452,"y":0.42},{"s":"Iter#24","x":0.458,"y":0.46},{"s":"Iter#24","x":0.465,"y":0.5},{"s":"Iter#24","x":0.472,"y":0.53},{"s":"Iter#24","x":0.478,"y":0.56},{"s":"Iter#24","x":0.484,"y":0.585},{"s":"Iter#24","x":0.493,"y":0.585},{"s":"Iter#24","x":0.5,"y":0.585},{"s":"Iter#24","x":0.507,"y":0.58},{"s":"Iter#24","x":0.497,"y":0.63},{"s":"Iter#24","x":0.503,"y":0.66},{"s":"Iter#24","x":0.51,"y":0.7},{"s":"Iter#24","x":0.515,"y":0.74},{"s":"Iter#24","x":0.52,"y":0.78},{"s":"Iter#24","x":0.525,"y":0.82},{"s":"Iter#24","x":0.53,"y":0.84},{"s":"Iter#24","x":0.535,"y":0.83},{"s":"Iter#24","x":0.54,"y":0.8},{"s":"Iter#24","x":0.545,"y":0.82},{"s":"Iter#24","x":0.55,"y":0.78},{"s":"Iter#24","x":0.535,"y":0.76},{"s":"Iter#24","x":0.545,"y":0.74},{"s":"Iter#24","x":0.55,"y":0.7},{"s":"Iter#24","x":0.54,"y":0.68},{"s":"Iter#24","x":0.555,"y":0.66},{"s":"Iter#24","x":0.53,"y":0.72},{"s":"Iter#24","x":0.525,"y":0.66},{"s":"Iter#24","x":0.545,"y":0.62},{"s":"Iter#24","x":0.535,"y":0.6},
{"s":"Iter#24","x":0.455,"y":0.44},{"s":"Iter#24","x":0.458,"y":0.4},{"s":"Iter#24","x":0.46,"y":0.36},{"s":"Iter#24","x":0.458,"y":0.32},{"s":"Iter#24","x":0.462,"y":0.29},{"s":"Iter#24","x":0.465,"y":0.26},{"s":"Iter#24","x":0.468,"y":0.23},{"s":"Iter#24","x":0.457,"y":0.19},{"s":"Iter#24","x":0.472,"y":0.27},{"s":"Iter#24","x":0.476,"y":0.31},{"s":"Iter#24","x":0.48,"y":0.35},{"s":"Iter#24","x":0.485,"y":0.38},{"s":"Iter#24","x":0.49,"y":0.41},{"s":"Iter#24","x":0.478,"y":0.41},{"s":"Iter#24","x":0.485,"y":0.44},{"s":"Iter#24","x":0.495,"y":0.44},{"s":"Iter#24","x":0.5,"y":0.4},{"s":"Iter#24","x":0.505,"y":0.37},{"s":"Iter#24","x":0.51,"y":0.34},{"s":"Iter#24","x":0.515,"y":0.31},{"s":"Iter#24","x":0.52,"y":0.36},{"s":"Iter#24","x":0.525,"y":0.4},{"s":"Iter#24","x":0.505,"y":0.45},{"s":"Iter#24","x":0.515,"y":0.42},{"s":"Iter#24","x":0.47,"y":0.45},{"s":"Iter#24","x":0.49,"y":0.33},{"s":"Iter#24","x":0.5,"y":0.3},{"s":"Iter#24","x":0.48,"y":0.27},
{"s":"Iter#24","x":0.49,"y":0.6},{"s":"Iter#24","x":0.497,"y":0.56},{"s":"Iter#24","x":0.505,"y":0.52},{"s":"Iter#24","x":0.512,"y":0.49},{"s":"Iter#24","x":0.52,"y":0.46},{"s":"Iter#24","x":0.528,"y":0.42},{"s":"Iter#24","x":0.535,"y":0.38},{"s":"Iter#24","x":0.542,"y":0.34},{"s":"Iter#24","x":0.548,"y":0.3},{"s":"Iter#24","x":0.553,"y":0.27},{"s":"Iter#24","x":0.558,"y":0.245},{"s":"Iter#24","x":0.54,"y":0.55},{"s":"Iter#24","x":0.548,"y":0.51},{"s":"Iter#24","x":0.553,"y":0.47},{"s":"Iter#24","x":0.557,"y":0.43},{"s":"Iter#24","x":0.56,"y":0.39},{"s":"Iter#24","x":0.545,"y":0.58},{"s":"Iter#24","x":0.55,"y":0.6},{"s":"Iter#24","x":0.558,"y":0.56},{"s":"Iter#24","x":0.562,"y":0.52},{"s":"Iter#24","x":0.565,"y":0.48},
{"s":"Iter#24","x":0.565,"y":0.565},{"s":"Iter#24","x":0.57,"y":0.565},{"s":"Iter#24","x":0.575,"y":0.56},{"s":"Iter#24","x":0.58,"y":0.56},{"s":"Iter#24","x":0.585,"y":0.555},{"s":"Iter#24","x":0.59,"y":0.555},
{"s":"Iter#24","x":0.565,"y":0.74},{"s":"Iter#24","x":0.57,"y":0.7},{"s":"Iter#24","x":0.575,"y":0.66},{"s":"Iter#24","x":0.58,"y":0.62},{"s":"Iter#24","x":0.585,"y":0.58},{"s":"Iter#24","x":0.59,"y":0.54},{"s":"Iter#24","x":0.595,"y":0.5},{"s":"Iter#24","x":0.6,"y":0.46},{"s":"Iter#24","x":0.605,"y":0.43},
{"s":"Iter#24","x":0.58,"y":0.73},{"s":"Iter#24","x":0.585,"y":0.69},{"s":"Iter#24","x":0.59,"y":0.65},{"s":"Iter#24","x":0.595,"y":0.61},{"s":"Iter#24","x":0.6,"y":0.57},{"s":"Iter#24","x":0.605,"y":0.53},{"s":"Iter#24","x":0.61,"y":0.49},{"s":"Iter#24","x":0.615,"y":0.45},{"s":"Iter#24","x":0.62,"y":0.42},
{"s":"Iter#24","x":0.6,"y":0.7},{"s":"Iter#24","x":0.605,"y":0.665},{"s":"Iter#24","x":0.61,"y":0.63},{"s":"Iter#24","x":0.615,"y":0.59},{"s":"Iter#24","x":0.62,"y":0.555},{"s":"Iter#24","x":0.625,"y":0.52},{"s":"Iter#24","x":0.63,"y":0.48},{"s":"Iter#24","x":0.635,"y":0.44},
{"s":"Iter#24","x":0.625,"y":0.66},{"s":"Iter#24","x":0.63,"y":0.625},{"s":"Iter#24","x":0.635,"y":0.59},{"s":"Iter#24","x":0.64,"y":0.555},{"s":"Iter#24","x":0.645,"y":0.52},{"s":"Iter#24","x":0.65,"y":0.485},{"s":"Iter#24","x":0.655,"y":0.45},{"s":"Iter#24","x":0.66,"y":0.42},
{"s":"Iter#24","x":0.645,"y":0.56},{"s":"Iter#24","x":0.65,"y":0.54},{"s":"Iter#24","x":0.655,"y":0.52},{"s":"Iter#24","x":0.66,"y":0.5},{"s":"Iter#24","x":0.665,"y":0.48},{"s":"Iter#24","x":0.67,"y":0.46},{"s":"Iter#24","x":0.675,"y":0.445},{"s":"Iter#24","x":0.679,"y":0.432},
{"s":"Iter#24","x":0.645,"y":0.64},{"s":"Iter#24","x":0.66,"y":0.625},{"s":"Iter#24","x":0.675,"y":0.62},
{"s":"Iter#24","x":0.57,"y":0.42},{"s":"Iter#24","x":0.58,"y":0.405},{"s":"Iter#24","x":0.59,"y":0.395},{"s":"Iter#24","x":0.6,"y":0.385},{"s":"Iter#24","x":0.61,"y":0.38},{"s":"Iter#24","x":0.62,"y":0.375},{"s":"Iter#24","x":0.63,"y":0.37},{"s":"Iter#24","x":0.645,"y":0.37},{"s":"Iter#24","x":0.66,"y":0.375},{"s":"Iter#24","x":0.675,"y":0.4},{"s":"Iter#24","x":0.575,"y":0.445},{"s":"Iter#24","x":0.585,"y":0.43},
{"s":"Iter#24","x":0.68,"y":0.54},{"s":"Iter#24","x":0.685,"y":0.541},{"s":"Iter#24","x":0.69,"y":0.542},{"s":"Iter#24","x":0.695,"y":0.543},{"s":"Iter#24","x":0.7,"y":0.544},{"s":"Iter#24","x":0.705,"y":0.545},{"s":"Iter#24","x":0.71,"y":0.546},{"s":"Iter#24","x":0.715,"y":0.547},{"s":"Iter#24","x":0.72,"y":0.548},{"s":"Iter#24","x":0.725,"y":0.549},{"s":"Iter#24","x":0.73,"y":0.55},{"s":"Iter#24","x":0.735,"y":0.551},{"s":"Iter#24","x":0.74,"y":0.551},{"s":"Iter#24","x":0.745,"y":0.552},{"s":"Iter#24","x":0.75,"y":0.553},{"s":"Iter#24","x":0.755,"y":0.554},{"s":"Iter#24","x":0.76,"y":0.555},{"s":"Iter#24","x":0.765,"y":0.555},{"s":"Iter#24","x":0.77,"y":0.556},{"s":"Iter#24","x":0.775,"y":0.557},{"s":"Iter#24","x":0.78,"y":0.557},{"s":"Iter#24","x":0.785,"y":0.558},{"s":"Iter#24","x":0.79,"y":0.558},{"s":"Iter#24","x":0.795,"y":0.559},{"s":"Iter#24","x":0.8,"y":0.56},{"s":"Iter#24","x":0.805,"y":0.56},{"s":"Iter#24","x":0.81,"y":0.561},{"s":"Iter#24","x":0.815,"y":0.561},{"s":"Iter#24","x":0.82,"y":0.562},{"s":"Iter#24","x":0.825,"y":0.562},{"s":"Iter#24","x":0.83,"y":0.562},
{"s":"Iter#24","x":0.835,"y":0.56},{"s":"Iter#24","x":0.845,"y":0.555},{"s":"Iter#24","x":0.84,"y":0.565},{"s":"Iter#24","x":0.844,"y":0.53},{"s":"Iter#24","x":0.848,"y":0.495},{"s":"Iter#24","x":0.852,"y":0.46},{"s":"Iter#24","x":0.856,"y":0.425},{"s":"Iter#24","x":0.86,"y":0.39},{"s":"Iter#24","x":0.847,"y":0.62},
{"s":"Iter#24","x":0.853,"y":0.56},{"s":"Iter#24","x":0.863,"y":0.555},{"s":"Iter#24","x":0.858,"y":0.565},{"s":"Iter#24","x":0.862,"y":0.53},{"s":"Iter#24","x":0.866,"y":0.495},{"s":"Iter#24","x":0.87,"y":0.46},{"s":"Iter#24","x":0.874,"y":0.425},{"s":"Iter#24","x":0.878,"y":0.387},{"s":"Iter#24","x":0.865,"y":0.62},
{"s":"Iter#24","x":0.871,"y":0.56},{"s":"Iter#24","x":0.881,"y":0.555},{"s":"Iter#24","x":0.876,"y":0.565},{"s":"Iter#24","x":0.88,"y":0.53},{"s":"Iter#24","x":0.884,"y":0.495},{"s":"Iter#24","x":0.888,"y":0.46},{"s":"Iter#24","x":0.892,"y":0.425},{"s":"Iter#24","x":0.896,"y":0.384},{"s":"Iter#24","x":0.883,"y":0.62},
{"s":"Iter#24","x":0.889,"y":0.56},{"s":"Iter#24","x":0.899,"y":0.555},{"s":"Iter#24","x":0.894,"y":0.565},{"s":"Iter#24","x":0.898,"y":0.53},{"s":"Iter#24","x":0.902,"y":0.495},{"s":"Iter#24","x":0.906,"y":0.46},{"s":"Iter#24","x":0.91,"y":0.425},{"s":"Iter#24","x":0.914,"y":0.381},{"s":"Iter#24","x":0.901,"y":0.62},
{"s":"Iter#24","x":0.907,"y":0.56},{"s":"Iter#24","x":0.917,"y":0.555},{"s":"Iter#24","x":0.912,"y":0.565},{"s":"Iter#24","x":0.916,"y":0.53},{"s":"Iter#24","x":0.92,"y":0.495},{"s":"Iter#24","x":0.924,"y":0.46},{"s":"Iter#24","x":0.928,"y":0.425},{"s":"Iter#24","x":0.932,"y":0.378},{"s":"Iter#24","x":0.919,"y":0.62},
{"s":"Iter#24","x":0.925,"y":0.56},{"s":"Iter#24","x":0.935,"y":0.555},{"s":"Iter#24","x":0.93,"y":0.565},{"s":"Iter#24","x":0.934,"y":0.53},{"s":"Iter#24","x":0.938,"y":0.495},{"s":"Iter#24","x":0.942,"y":0.46},{"s":"Iter#24","x":0.946,"y":0.425},{"s":"Iter#24","x":0.95,"y":0.375},{"s":"Iter#24","x":0.937,"y":0.62},
{"s":"Iter#24","x":0.943,"y":0.56},{"s":"Iter#24","x":0.953,"y":0.555},{"s":"Iter#24","x":0.948,"y":0.565},{"s":"Iter#24","x":0.952,"y":0.53},{"s":"Iter#24","x":0.956,"y":0.495},{"s":"Iter#24","x":0.96,"y":0.46},{"s":"Iter#24","x":0.964,"y":0.425},{"s":"Iter#24","x":0.968,"y":0.372},{"s":"Iter#24","x":0.955,"y":0.62},
{"s":"Iter#24","x":0.961,"y":0.56},{"s":"Iter#24","x":0.971,"y":0.555},{"s":"Iter#24","x":0.966,"y":0.565},{"s":"Iter#24","x":0.97,"y":0.53},{"s":"Iter#24","x":0.974,"y":0.495},{"s":"Iter#24","x":0.978,"y":0.46},{"s":"Iter#24","x":0.982,"y":0.425},{"s":"Iter#24","x":0.986,"y":0.366},{"s":"Iter#24","x":0.973,"y":0.62},
{"s":"Iter#24","x":0.979,"y":0.56},{"s":"Iter#24","x":0.984,"y":0.565},{"s":"Iter#24","x":0.988,"y":0.53},{"s":"Iter#24","x":0.992,"y":0.495},{"s":"Iter#24","x":0.994,"y":0.46},{"s":"Iter#24","x":0.99,"y":0.6},
{"s":"Iter#24","x":0.45,"y":0.0},{"s":"Iter#24","x":0.455,"y":0.0},{"s":"Iter#24","x":0.46,"y":0.0},{"s":"Iter#24","x":0.465,"y":0.0},{"s":"Iter#24","x":0.47,"y":0.0},{"s":"Iter#24","x":0.475,"y":0.0},{"s":"Iter#24","x":0.48,"y":0.0},{"s":"Iter#24","x":0.485,"y":0.0},{"s":"Iter#24","x":0.49,"y":0.0},{"s":"Iter#24","x":0.495,"y":0.0},{"s":"Iter#24","x":0.5,"y":0.0},{"s":"Iter#24","x":0.505,"y":0.0},{"s":"Iter#24","x":0.51,"y":0.0},{"s":"Iter#24","x":0.515,"y":0.0},{"s":"Iter#24","x":0.52,"y":0.0},{"s":"Iter#24","x":0.525,"y":0.0},{"s":"Iter#24","x":0.533,"y":0.0},{"s":"Iter#24","x":0.543,"y":0.0},{"s":"Iter#24","x":0.556,"y":0.0},{"s":"Iter#24","x":0.573,"y":0.0},{"s":"Iter#24","x":0.58,"y":0.0},{"s":"Iter#24","x":0.587,"y":0.0},{"s":"Iter#24","x":0.594,"y":0.0},{"s":"Iter#24","x":0.6,"y":0.0},{"s":"Iter#24","x":0.607,"y":0.0},{"s":"Iter#24","x":0.614,"y":0.0},{"s":"Iter#24","x":0.627,"y":0.0},{"s":"Iter#24","x":0.635,"y":0.0},{"s":"Iter#24","x":0.652,"y":0.0},{"s":"Iter#24","x":0.677,"y":0.0},{"s":"Iter#24","x":0.88,"y":0.0},{"s":"Iter#24","x":0.9,"y":0.0},{"s":"Iter#24","x":0.92,"y":0.0},{"s":"Iter#24","x":0.93,"y":0.0},{"s":"Iter#24","x":0.94,"y":0.0},{"s":"Iter#24","x":0.95,"y":0.0},{"s":"Iter#24","x":0.955,"y":0.0},{"s":"Iter#24","x":0.96,"y":0.0},{"s":"Iter#24","x":0.965,"y":0.0},{"s":"Iter#24","x":0.97,"y":0.0},{"s":"Iter#24","x":0.975,"y":0.0},{"s":"Iter#24","x":0.98,"y":0.0},{"s":"Iter#24","x":0.985,"y":0.0},
{"s":"Iter#24","x":0.995,"y":0.5},{"s":"Iter#24","x":1.0,"y":0.492},{"s":"Iter#24","x":1.005,"y":0.492},{"s":"Iter#24","x":1.01,"y":0.491},{"s":"Iter#24","x":1.015,"y":0.491},{"s":"Iter#24","x":1.02,"y":0.491},{"s":"Iter#24","x":1.025,"y":0.49},{"s":"Iter#24","x":1.03,"y":0.49},{"s":"Iter#24","x":1.035,"y":0.49},{"s":"Iter#24","x":1.04,"y":0.489},{"s":"Iter#24","x":1.045,"y":0.489},{"s":"Iter#24","x":1.05,"y":0.489},{"s":"Iter#24","x":1.055,"y":0.488},{"s":"Iter#24","x":1.06,"y":0.488},{"s":"Iter#24","x":1.065,"y":0.488},{"s":"Iter#24","x":1.07,"y":0.487},{"s":"Iter#24","x":1.075,"y":0.487},{"s":"Iter#24","x":1.08,"y":0.487},{"s":"Iter#24","x":1.085,"y":0.486},{"s":"Iter#24","x":1.09,"y":0.486},{"s":"Iter#24","x":1.095,"y":0.486},{"s":"Iter#24","x":1.1,"y":0.486},{"s":"Iter#24","x":1.105,"y":0.485},{"s":"Iter#24","x":1.11,"y":0.485},{"s":"Iter#24","x":1.115,"y":0.485},{"s":"Iter#24","x":1.12,"y":0.485},{"s":"Iter#24","x":1.125,"y":0.484},{"s":"Iter#24","x":1.13,"y":0.484},{"s":"Iter#24","x":1.135,"y":0.484},{"s":"Iter#24","x":1.14,"y":0.484},{"s":"Iter#24","x":1.145,"y":0.483},{"s":"Iter#24","x":1.15,"y":0.483},{"s":"Iter#24","x":1.155,"y":0.483},{"s":"Iter#24","x":1.16,"y":0.483},{"s":"Iter#24","x":1.165,"y":0.482},{"s":"Iter#24","x":1.17,"y":0.482},{"s":"Iter#24","x":1.175,"y":0.482},{"s":"Iter#24","x":1.18,"y":0.482},{"s":"Iter#24","x":1.185,"y":0.481},{"s":"Iter#24","x":1.19,"y":0.481},{"s":"Iter#24","x":1.195,"y":0.481},{"s":"Iter#24","x":1.2,"y":0.481}
]},
"encoding":{
"x":{"field":"x","type":"quantitative","scale":{"domain":[0,1.2],"nice":false,"zero":false},
"axis":{"values":[0,0.2,0.4,0.6,0.8,1.0,1.2],"format":".1f","grid":true,"gridColor":"#444","gridWidth":1.3,"ticks":false,"domain":false,"labelFlush":false,"labelFont":"Liberation Mono","labelFontSize":18,"labelColor":"#666","labelPadding":20,"title":"X-Coordinate (m)","titleFont":"Liberation Mono","titleFontSize":19,"titleFontWeight":"bold","titleColor":"#000","titlePadding":12}},
"y":{"field":"y","type":"quantitative","scale":{"domain":[-0.2,1.6],"nice":false,"zero":false},
"axis":{"values":[-0.2,0,0.2,0.4,0.6,0.8,1.0,1.2,1.4,1.6],"format":".1f","grid":true,"gridColor":"#444","gridWidth":1.3,"ticks":true,"tickSize":9,"tickColor":"#333","tickWidth":1.3,"domain":true,"domainColor":"#000","domainWidth":1.5,"labelFont":"Liberation Mono","labelFontSize":15,"labelColor":"#555","labelPadding":16,"title":"τx (N/m2)","titleFont":"Liberation Mono","titleFontSize":17,"titleFontWeight":"bold","titleColor":"#000","titlePadding":10}}
},
"layer":[
{"data":{"name":"bed"},"mark":{"type":"area","color":"#000","opacity":1},"encoding":{"y2":{"field":"top"}}},
{"data":{"name":"hole"},"mark":{"type":"rect","color":"#fff","opacity":1},"encoding":{"x2":{"field":"x2"},"y2":{"field":"y2"}}},
{"data":{"name":"crit"},"mark":{"type":"line","color":"#ff0000","strokeWidth":5},"encoding":{}},
{"data":{"name":"crit"},"mark":{"type":"line","color":"#ffb8b8","strokeWidth":1.5,"strokeDash":[3,3]},"encoding":{}},
{"data":{"name":"crit"},"mark":{"type":"point","shape":"circle","filled":true,"color":"#ff0000","size":440,"opacity":1},"encoding":{}},
{"data":{"name":"pts"},"mark":{"type":"point","size":70,"strokeWidth":1.8,"opacity":1,"fillOpacity":1,"strokeOpacity":1},
"encoding":{
"fill":{"field":"s","type":"nominal","scale":{"domain":["Cr. Shear Stress","Flat Bottom","Iter#05","Iter#10","Iter#15","Iter#19","Iter#23","Iter#24"],"range":["#ff0000","#ff00ff","#ffff00","#ff8040","#800080","#800000","#008080","transparent"]},
"legend":{"title":" ","titleOrient":"right","titlePadding":140,"titleFontSize":20,"orient":"none","legendX":-2,"legendY":558,"columns":3,"direction":"horizontal","gridAlign":"each","columnPadding":133,"rowPadding":3,"padding":6,"strokeColor":"#333","fillColor":"#fff","symbolSize":50,"symbolStrokeWidth":1.5,"symbolOffset":7,"labelOffset":15,"labelFont":"Liberation Mono","labelFontSize":20,"labelFontWeight":"bold","labelColor":"#000","labelLimit":400}},
"stroke":{"field":"s","type":"nominal","scale":{"domain":["Cr. Shear Stress","Flat Bottom","Iter#05","Iter#10","Iter#15","Iter#19","Iter#23","Iter#24"],"range":["#ff0000","#ff00ff","#ffff00","#ff8040","#800080","#800000","#008080","#0000ff"]},
"legend":{"title":" ","titleOrient":"right","titlePadding":140,"titleFontSize":20,"orient":"none","legendX":-2,"legendY":558,"columns":3,"direction":"horizontal","gridAlign":"each","columnPadding":133,"rowPadding":3,"padding":6,"strokeColor":"#333","fillColor":"#fff","symbolSize":50,"symbolStrokeWidth":1.5,"symbolOffset":7,"labelOffset":15,"labelFont":"Liberation Mono","labelFontSize":20,"labelFontWeight":"bold","labelColor":"#000","labelLimit":400}},
"shape":{"field":"s","type":"nominal","scale":{"domain":["Cr. Shear Stress","Flat Bottom","Iter#05","Iter#10","Iter#15","Iter#19","Iter#23","Iter#24"],"range":["M-4.5,0H4.5M0,-1.6L1.6,0L0,1.6L-1.6,0Z","square","triangle-up","M-1,-1L1,1M-1,1L1,-1M0,-1.2V1.2","M-0.8,-1L0.8,1M-0.8,1L0.8,-1","diamond","M-1.1,0H1.1M0,-1.1V1.1","circle"]},
"legend":{"title":" ","titleOrient":"right","titlePadding":140,"titleFontSize":20,"orient":"none","legendX":-2,"legendY":558,"columns":3,"direction":"horizontal","gridAlign":"each","columnPadding":133,"rowPadding":3,"padding":6,"strokeColor":"#333","fillColor":"#fff","symbolSize":50,"symbolStrokeWidth":1.5,"symbolOffset":7,"labelOffset":15,"labelFont":"Liberation Mono","labelFontSize":20,"labelFontWeight":"bold","labelColor":"#000","labelLimit":400}}
}}
]
}
